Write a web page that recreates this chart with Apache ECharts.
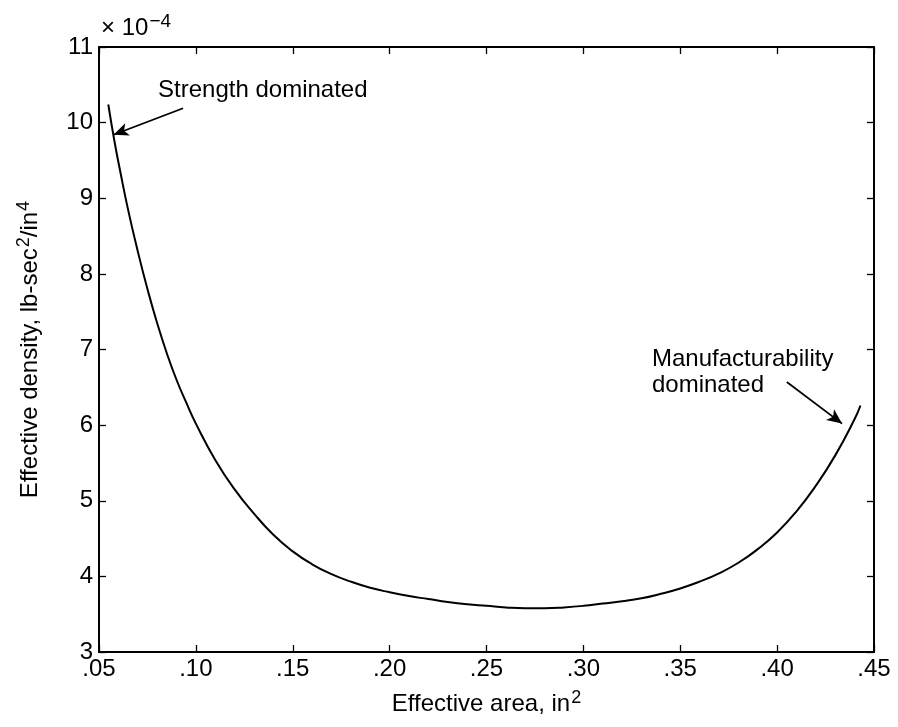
<!DOCTYPE html>
<html><head><meta charset="utf-8">
<script src="https://cdn.jsdelivr.net/npm/echarts@6/dist/echarts.min.js"></script>
<style>html,body{margin:0;padding:0;background:#fff}#c{width:898px;height:727px}</style>
</head><body><div id="c"></div>
<script>
const areaX = [0.0548,0.058,0.061,0.065,0.07,0.075,0.08,0.085,0.09,0.095,0.10,0.11,0.12,0.13,0.14,0.15,0.16,0.17,0.18,0.19,0.20,0.21,0.22,0.23,0.24,0.25,0.26,0.27,0.28,0.29,0.30,0.31,0.32,0.33,0.34,0.35,0.36,0.37,0.38,0.39,0.40,0.41,0.42,0.43,0.44,0.443];
const densityY = [10.24,9.75,9.35,8.85,8.3,7.8,7.35,6.95,6.6,6.3,6.02,5.54,5.15,4.83,4.55,4.33,4.16,4.03,3.93,3.85,3.79,3.74,3.70,3.66,3.63,3.61,3.59,3.58,3.58,3.59,3.61,3.64,3.67,3.71,3.77,3.84,3.93,4.04,4.18,4.36,4.58,4.86,5.20,5.60,6.08,6.26];
const xTickLabels = ['.05','.10','.15','.20','.25','.30','.35','.40','.45'];
const yTickLabels = ['3','4','5','6','7','8','9','10','11'];
const strengthArrow = [[0.0934, 10.19], [0.0575, 9.84]];
const manufArrow = [[0.405, 6.57], [0.4335, 6.02]];
const notes = [
  {text: 'Strength dominated', at: [0.0805, 10.42]},
  {text: 'Manufacturability', at: [0.3354, 6.87]},
  {text: 'dominated', at: [0.3354, 6.53]}
];

const FONT = '"Liberation Sans", Arial, sans-serif';
const chart = echarts.init(document.getElementById('c'), null, {renderer: 'canvas'});
const axisLine = {show: true, lineStyle: {color: '#000', width: 2}};
const tick = {show: true, inside: true, length: 7, lineStyle: {color: '#000', width: 1.3}};
const xFmt = v => xTickLabels[Math.round((v - 0.05) / 0.05)];
const yFmt = v => yTickLabels[Math.round(v - 3)];

chart.setOption({
  animation: false,
  backgroundColor: '#fff',
  grid: {left: 99, right: 24, top: 47, bottom: 75},
  xAxis: [
    {type: 'value', min: 0.05, max: 0.45, interval: 0.05, position: 'bottom',
     axisLine, axisTick: tick, splitLine: {show: false},
     axisLabel: {formatter: xFmt, color: '#000', fontFamily: FONT, fontSize: 24, margin: 5},
     name: '{a|Effective area, in}{s|2}', nameLocation: 'middle', nameGap: 37,
     nameTextStyle: {color: '#000', fontFamily: FONT, fontSize: 24,
       rich: {a: {fontFamily: FONT, fontSize: 24, color: '#000'}, s: {fontFamily: FONT, fontSize: 18, color: '#000', padding: [0,0,12,1]}}}},
    {type: 'value', min: 0.05, max: 0.45, interval: 0.05, position: 'top',
     axisLine, axisTick: tick, axisLabel: {show: false}, splitLine: {show: false}}
  ],
  yAxis: [
    {type: 'value', min: 3, max: 11, interval: 1, position: 'left',
     axisLine, axisTick: tick, splitLine: {show: false},
     axisLabel: {formatter: yFmt, color: '#000', fontFamily: FONT, fontSize: 24, margin: 6},
     name: '{a|Effective density, lb-sec}{s|2}{a|/in}{s|4}', nameLocation: 'middle', nameRotate: 90, nameGap: 54,
     nameTextStyle: {color: '#000', fontFamily: FONT, fontSize: 24,
       rich: {a: {fontFamily: FONT, fontSize: 24, color: '#000'}, s: {fontFamily: FONT, fontSize: 18, color: '#000', padding: [0,0,12,1]}}}},
    {type: 'value', min: 3, max: 11, interval: 1, position: 'right',
     axisLine, axisTick: tick, axisLabel: {show: false}, splitLine: {show: false}}
  ],
  series: [{
    type: 'line', showSymbol: false, smooth: true, silent: true,
    data: areaX.map((x, i) => [x, densityY[i]]),
    lineStyle: {color: '#000', width: 2},
    markLine: {
      silent: true, symbol: ['none', 'arrow'], symbolSize: [10, 15],
      lineStyle: {color: '#000', width: 1.8, type: 'solid'}, label: {show: false},
      data: [
        [{coord: strengthArrow[0]}, {coord: strengthArrow[1]}],
        [{coord: manufArrow[0]}, {coord: manufArrow[1]}]
      ]
    }
  }]
});

const noteGraphics = notes.map(n => {
  const p = chart.convertToPixel({xAxisIndex: 0, yAxisIndex: 0}, n.at);
  return {type: 'text', x: p[0], y: p[1], style: {text: n.text, fill: '#000', font: '24px ' + FONT, verticalAlign: 'middle'}};
});
chart.setOption({
  graphic: [
    {type: 'text', left: 101, top: 12, style: {text: '{a|× 10}{s|−4}', fill: '#000',
      rich: {a: {fontFamily: FONT, fontSize: 24, fill: '#000'}, s: {fontFamily: FONT, fontSize: 19, fill: '#000', padding: [0,0,14,1]}}}}
  ].concat(noteGraphics)
});
</script></body></html>
